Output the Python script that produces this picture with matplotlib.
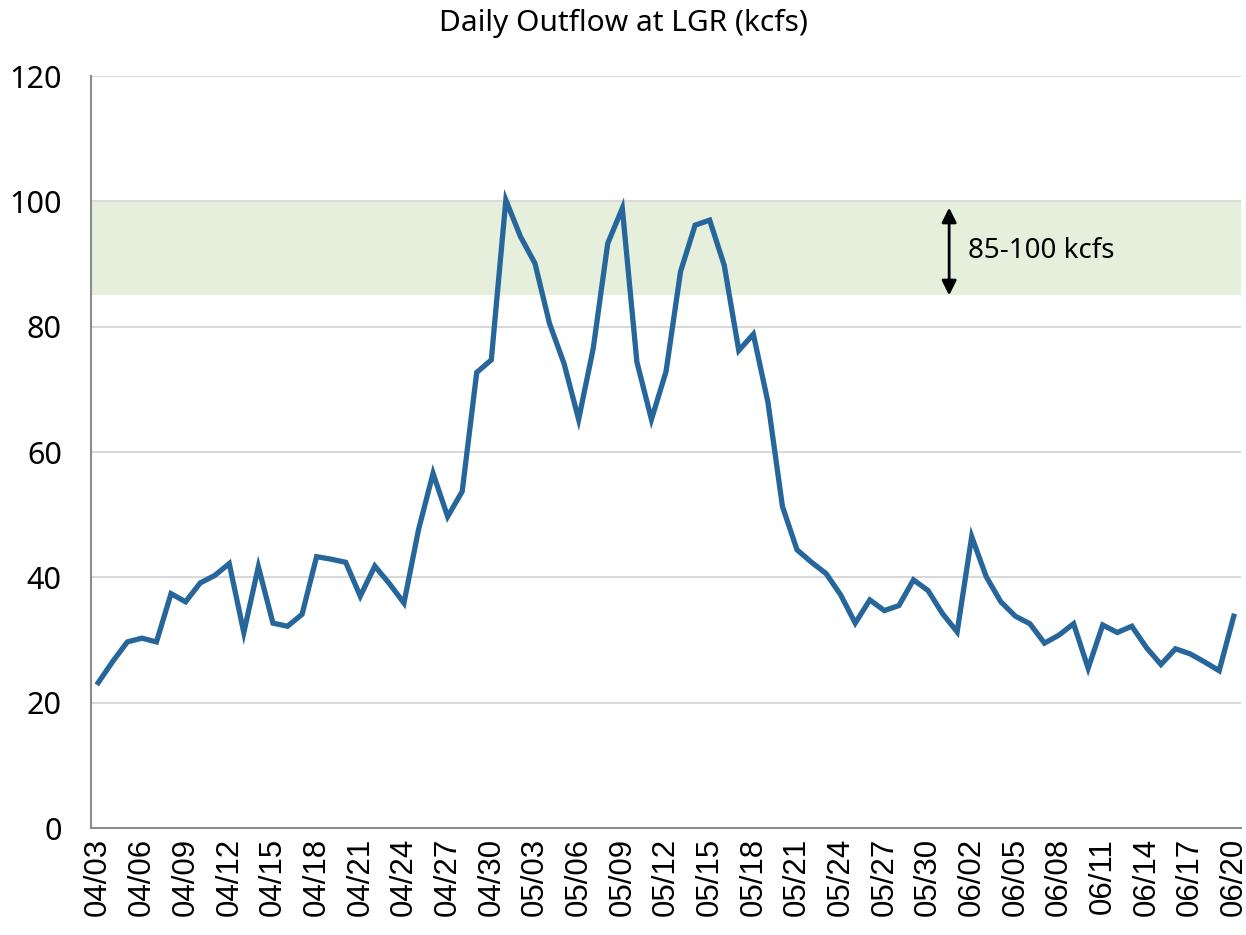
import numpy as np
import matplotlib
matplotlib.use("Agg")
import matplotlib.pyplot as plt
import pandas as pd

dates = pd.date_range("2023-04-03", "2023-06-20", freq="D")
labels = [d.strftime("%m/%d") for d in dates]

outflow = [23.2, 26.6, 29.7, 30.3, 29.7, 37.4, 36.1, 39.1, 40.3, 42.2,
           31.2, 41.7, 32.7, 32.2, 34.1, 43.3, 42.9, 42.4, 37.0, 41.8,
           39.0, 35.9, 47.6, 56.6, 49.7, 53.7, 72.7, 74.7, 100.2, 94.4,
           90.1, 80.5, 74.1, 65.2, 76.5, 93.3, 98.9, 74.4, 65.2, 72.8,
           88.8, 96.2, 97.0, 89.8, 76.2, 78.8, 68.0, 51.3, 44.4, 42.4,
           40.6, 37.2, 32.7, 36.4, 34.7, 35.5, 39.6, 37.9, 34.2, 31.3,
           46.5, 40.1, 36.1, 33.8, 32.6, 29.5, 30.8, 32.6, 25.5, 32.4,
           31.2, 32.2, 28.8, 26.1, 28.6, 27.8, 26.5, 25.1, 33.8]

band_low, band_high = 85, 100
line_color = "#26669a"

fig = plt.figure(figsize=(12.46, 9.35), dpi=100)
ax = fig.add_axes([0.073, 0.1144, 0.923, 0.8043])

x = np.arange(len(outflow))
ax.axhspan(band_low, band_high, color="#e5efdc", zorder=0, lw=0)
ax.plot(x, outflow, color=line_color, lw=3.8, solid_joinstyle="miter", zorder=3)

ax.set_xlim(-0.5, len(outflow) - 0.5)
ax.set_ylim(0, 120)
ax.set_yticks(range(0, 121, 20))
ax.yaxis.grid(True, color="#d9d9d9", lw=1.5, zorder=1)
ax.set_axisbelow(True)

ax.set_xticks(x[::3])
ax.set_xticklabels(labels[::3], rotation=90, fontsize=22.5, family="Liberation Sans")
for t in ax.get_yticklabels():
    t.set_fontsize(22)
    t.set_family("Noto Sans")
ax.tick_params(axis="both", length=0)
ax.tick_params(axis="y", pad=21)
ax.tick_params(axis="x", pad=7)

for s in ["top", "right"]:
    ax.spines[s].set_visible(False)
for s in ["left", "bottom"]:
    ax.spines[s].set_color("#8c8c8c")
    ax.spines[s].set_linewidth(1.5)

ax.annotate("", xy=(58.45, 85), xytext=(58.45, 99.0),
            arrowprops=dict(arrowstyle="<|-|>", color="black", lw=2,
                            mutation_scale=22, shrinkA=0, shrinkB=0))
ax.text(59.75, 92, "85-100 kcfs", fontsize=20, family="Noto Sans", va="center", ha="left")

fig.text(0.5, 0.975, "Daily Outflow at LGR (kcfs)", ha="center", va="center",
         fontsize=21.5, family="Noto Sans")

fig.savefig("out.png", dpi=100)
